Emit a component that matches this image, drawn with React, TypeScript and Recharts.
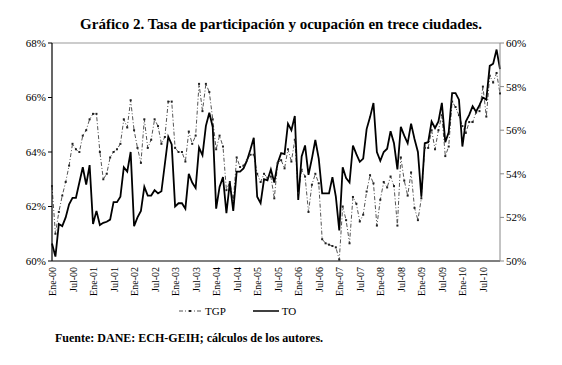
import React from 'react';
import { LineChart, Line, XAxis, YAxis, ReferenceLine } from 'recharts';

const meses = ['Ene', 'Feb', 'Mar', 'Abr', 'May', 'Jun', 'Jul', 'Ago', 'Sep', 'Oct', 'Nov', 'Dic'];
const anios = ['00', '01', '02', '03', '04', '05', '06', '07', '08', '09', '10'];

// TGP, eje izquierdo (%)
const tgp = [
    62.75, 61.0, 61.8, 62.4, 62.9, 63.5, 64.3, 64.1, 64.0, 64.6, 64.8, 65.2,
    65.4, 65.4, 64.0, 63.0, 63.2, 63.8, 64.0, 64.1, 64.3, 65.2, 64.9, 65.9,
    64.8, 64.15, 63.6, 65.2, 64.15, 64.45, 65.2, 64.95, 64.3, 64.55, 65.85, 65.85,
    64.15, 64.0, 64.0, 63.65, 64.75, 64.3, 64.6, 66.5, 65.5, 66.5, 66.2, 65.2,
    64.1, 64.6, 64.2, 62.6, 62.9, 62.2, 63.8, 63.45, 63.5, 63.7, 63.9, 63.9,
    63.2, 62.9, 63.2, 63.05, 63.1, 62.3, 63.6, 63.7, 63.4, 64.1, 63.65, 64.45,
    62.5, 63.35, 63.1, 61.8, 62.8, 63.2, 62.85, 60.8, 60.65, 60.6, 60.55, 60.5,
    60.05, 62.0, 61.5, 60.65, 62.35, 62.1, 61.45, 61.7, 62.55, 63.15, 62.85, 61.3,
    62.25, 62.9, 62.7, 63.1, 62.75, 61.3, 63.8, 62.95, 62.4, 63.25, 61.95, 61.5,
    62.3, 64.15, 64.15, 64.8, 64.1, 64.8, 65.35, 63.85, 64.2, 65.85, 65.65, 65.35,
    64.95, 64.7, 65.1, 65.1, 65.45, 65.5, 66.4, 65.3, 66.8, 66.55, 66.9, 66.15,
];

// TO, eje derecho (%)
const to = [
    50.8, 50.2, 51.7, 51.6, 52.0, 52.6, 52.9, 52.9, 53.6, 54.3, 53.5, 54.4,
    51.7, 52.3, 51.65, 51.75, 51.8, 51.9, 52.7, 52.7, 52.95, 54.3, 54.1, 55.0,
    51.6, 52.0, 52.3, 53.4, 53.0, 53.0, 53.25, 53.1, 53.2, 54.45, 55.7, 55.35,
    52.5, 52.65, 52.65, 52.4, 54.0, 53.6, 53.35, 55.2, 54.85, 56.2, 56.8, 56.15,
    52.4, 53.4, 53.85, 52.2, 53.6, 52.3, 54.1, 54.1, 54.25, 54.6, 55.1, 55.65,
    52.95, 52.65, 53.75, 53.7, 54.2, 53.6, 54.5, 54.95, 54.9, 56.3, 56.0, 56.65,
    52.8, 54.8, 55.3, 53.95, 54.7, 55.55, 54.7, 53.1, 53.1, 53.1, 53.85, 52.95,
    51.4, 54.3, 53.8, 53.6, 55.3, 54.9, 54.55, 54.7, 56.05, 56.6, 57.25, 55.0,
    54.6, 55.0, 55.15, 55.95, 55.4, 54.2, 56.15, 55.75, 55.4, 56.3, 55.6, 55.0,
    52.95, 55.4, 55.45, 56.4, 56.1, 56.4, 57.25, 55.45, 55.9, 57.7, 57.7, 57.4,
    55.25, 56.4, 56.7, 57.1, 56.85, 57.15, 57.5, 57.4, 58.95, 59.05, 59.7, 58.8,
];

const ticksIzq = [60, 62, 64, 66, 68];
const ticksDer = [50, 52, 54, 56, 58, 60];

const data = anios.flatMap((a, ai) =>
    meses.map((m, mi) => {
        const i = ai * 12 + mi;
        return { mes: `${m}-${a}`, tgp: tgp[i], to: to[i] };
    })
);

const serif = "'Liberation Serif', 'Times New Roman', Times, serif";

const TgpDot = (props: any) => {
    const { cx, cy } = props;
    if (cx == null || cy == null) return null;
    return <rect x={cx - 1} y={cy - 1} width={2} height={2} fill="#222" />;
};

export default function App() {
    return (
        <div style={{ position: 'absolute', left: 0, top: 0, width: 562, height: 365, background: '#fff', fontFamily: serif }}>
            <div style={{ position: 'absolute', left: 0, top: 16, width: 562, textAlign: 'center', fontWeight: 'bold', fontSize: 15, color: '#000', fontFamily: serif }}>
                Gráfico 2. Tasa de participación y ocupación en trece ciudades.
            </div>
            <div style={{ position: 'absolute', left: 0, top: 0 }}>
                <LineChart width={562} height={310} data={data} margin={{ top: 43, right: 0, bottom: 4, left: 0 }}>
                    <XAxis
                        dataKey="mes"
                        interval={5}
                        height={45}
                        tickLine={false}
                        axisLine={{ stroke: '#000', strokeWidth: 1.2 }}
                        angle={-90}
                        textAnchor="end"
                        tick={{ fontSize: 10, fill: '#000', fontFamily: serif }}
                        dy={-2}
                        dx={-3}
                    />
                    <YAxis
                        yAxisId="left"
                        width={52}
                        domain={[60, 68]}
                        ticks={ticksIzq}
                        tickFormatter={(v: number) => `${v}%`}
                        tickSize={4}
                        axisLine={{ stroke: '#000', strokeWidth: 1.2 }}
                        tickLine={{ stroke: '#000' }}
                        tick={{ fontSize: 11, fill: '#000', fontFamily: serif }}
                    />
                    <YAxis
                        yAxisId="right"
                        orientation="right"
                        width={62}
                        domain={[50, 60]}
                        ticks={ticksDer}
                        tickFormatter={(v: number) => `${v}%`}
                        tickSize={4}
                        axisLine={{ stroke: '#888' }}
                        tickLine={{ stroke: '#888' }}
                        tick={{ fontSize: 11, fill: '#000', fontFamily: serif }}
                    />
                    <ReferenceLine yAxisId="left" y={68} stroke="#999" />
                    <Line
                        yAxisId="left"
                        type="linear"
                        dataKey="tgp"
                        stroke="#555"
                        strokeWidth={1}
                        strokeDasharray="4 2 1 2"
                        dot={<TgpDot />}
                        isAnimationActive={false}
                    />
                    <Line
                        yAxisId="right"
                        type="linear"
                        dataKey="to"
                        stroke="#000"
                        strokeWidth={1.8}
                        dot={false}
                        isAnimationActive={false}
                    />
                </LineChart>
            </div>
            <div style={{ position: 'absolute', left: 178, top: 305, display: 'flex', alignItems: 'center', fontSize: 11, color: '#000', fontFamily: serif }}>
                <svg width={24} height={10}>
                    <line x1={1} y1={5} x2={23} y2={5} stroke="#555" strokeDasharray="4 2 1 2" />
                    <rect x={11} y={4} width={2} height={2} fill="#222" />
                </svg>
                <span style={{ marginLeft: 3 }}>TGP</span>
                <svg width={28} height={10} style={{ marginLeft: 26 }}>
                    <line x1={1} y1={5} x2={27} y2={5} stroke="#000" strokeWidth={1.5} />
                </svg>
                <span style={{ marginLeft: 2 }}>TO</span>
            </div>
            <div style={{ position: 'absolute', left: 55, top: 331, fontWeight: 'bold', fontSize: 12, color: '#000', fontFamily: serif }}>
                Fuente: DANE: ECH-GEIH; cálculos de los autores.
            </div>
        </div>
    );
}
